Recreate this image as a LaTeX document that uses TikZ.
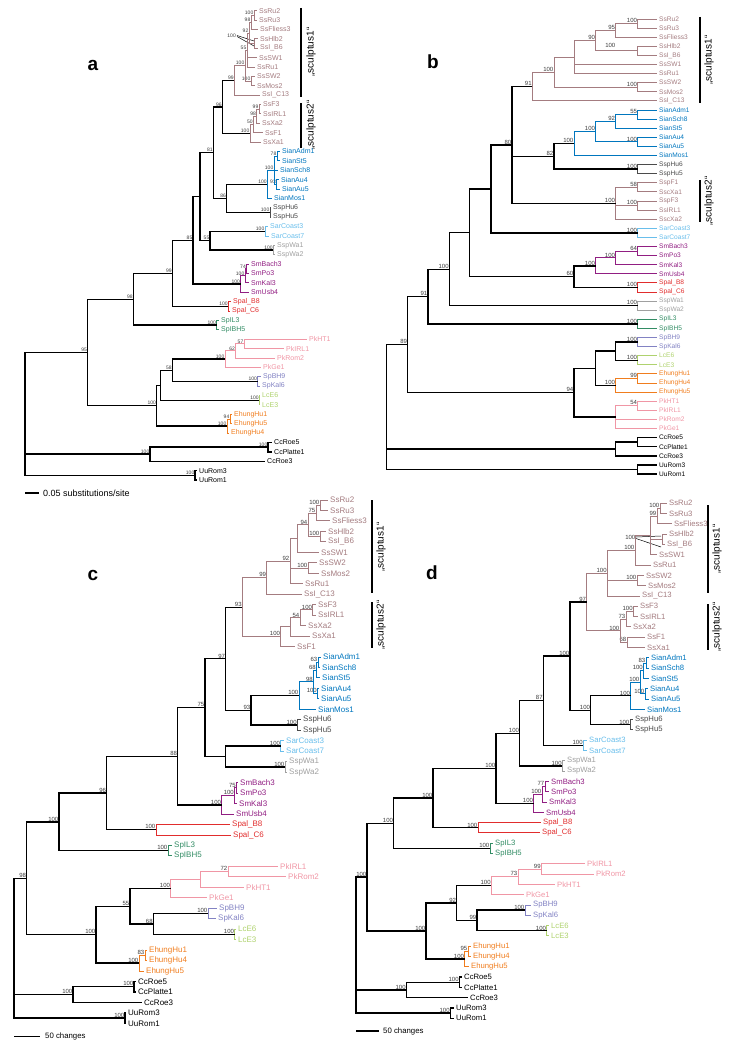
\documentclass[tikz,border=0pt]{standalone}
\usepackage{fontspec}
\setmainfont{Liberation Sans}
\usetikzlibrary{calc}
\definecolor{ss}{RGB}{164,124,128}
\definecolor{sian}{RGB}{0,118,190}
\definecolor{sar}{RGB}{105,190,235}
\definecolor{wa}{RGB}{160,160,160}
\definecolor{hu}{RGB}{75,75,75}
\definecolor{sm}{RGB}{145,30,130}
\definecolor{spal}{RGB}{225,45,45}
\definecolor{spil}{RGB}{50,140,100}
\definecolor{pk}{RGB}{240,150,165}
\definecolor{sp}{RGB}{130,130,195}
\definecolor{lc}{RGB}{175,210,110}
\definecolor{eh}{RGB}{240,125,30}
\definecolor{bsc}{RGB}{60,60,60}
\newcommand\Yz{0}
\newcommand\Dy{0}
\newcommand\Tp[5]{\coordinate (#1) at (#3,{\Yz+\Dy*#2});
  \node[tiplab,text=#5] (#1l) at (#1) {#4};}
\newcommand\Nd[5]{%
  \foreach \c [count=\i] in {#4}{\ifnum\i=1 \xdef\Nfirst{\c}\fi \xdef\Nlast{\c}}%
  \path let \p1=(\Nfirst), \p2=(\Nlast) in (#2pt,{0.5*(\y1)+0.5*(\y2)}) coordinate (#1);
  \foreach \c in {#4}{\draw[br,#3] (#1) |- (\c);}
  \if\relax\detokenize{#5}\relax\else\node[bs] at (#1) {#5};\fi}
\tikzset{
  br/.style={line width=0.9pt},
  K/.style={draw=black,line width=1.4pt},
  tiplab/.style={anchor=west,inner sep=0pt,xshift=2pt},
  bs/.style={anchor=south east,inner sep=0.5pt,text=bsc},
  plab/.style={font=\bfseries\fontsize{19}{19}\selectfont},
  sbar/.style={line width=1.6pt},
  sclab/.style={rotate=90,font=\fontsize{10}{10}\selectfont},
  lead/.style={line width=0.5pt}
}
\begin{document}
\begin{tikzpicture}[x=1pt,y=-1pt]
\useasboundingbox (0,0) rectangle (734,1049);
%================ PANEL A =================
\renewcommand\Yz{10.7}\renewcommand\Dy{9.386}
\begin{scope}[tiplab/.append style={font=\fontsize{7}{7}\selectfont},bs/.append style={font=\fontsize{5}{5}\selectfont}]
\Tp{aRu2}{0}{257}{SsRu2}{ss}
\Tp{aRu3}{1}{257}{SsRu3}{ss}
\Tp{aFl3}{2}{258}{SsFliess3}{ss}
\Tp{aHl2}{3}{258}{SsHlb2}{ss}
\Tp{aB6}{4}{258}{SsI\_B6}{ss}
\Tp{aSW1}{5}{257}{SsSW1}{ss}
\Tp{aRu1}{6}{255}{SsRu1}{ss}
\Tp{aSW2}{7}{255}{SsSW2}{ss}
\Tp{aMo2}{8}{255}{SsMos2}{ss}
\Tp{aC13}{9}{260}{SsI\_C13}{ss}
\Tp{aF3}{10}{261}{SsF3}{ss}
\Tp{aIR}{11}{261}{SsIRL1}{ss}
\Tp{aXa2}{12}{260}{SsXa2}{ss}
\Tp{aF1}{13}{263}{SsF1}{ss}
\Tp{aXa1}{14}{261}{SsXa1}{ss}
\Tp{aAd}{15}{280}{SianAdm1}{sian}
\Tp{aSt}{16}{280}{SianSt5}{sian}
\Tp{aSc}{17}{278}{SianSch8}{sian}
\Tp{aA4}{18}{279}{SianAu4}{sian}
\Tp{aA5}{19}{280}{SianAu5}{sian}
\Tp{aMs}{20}{272}{SianMos1}{sian}
\Tp{aH6}{21}{271}{SspHu6}{hu}
\Tp{aH5}{22}{271}{SspHu5}{hu}
\Tp{aC3}{23}{268}{SarCoast3}{sar}
\Tp{aC7}{24}{269}{SarCoast7}{sar}
\Tp{aW1}{25}{275}{SspWa1}{wa}
\Tp{aW2}{26}{275}{SspWa2}{wa}
\Tp{aBa}{27}{249}{SmBach3}{sm}
\Tp{aPo}{28}{249}{SmPo3}{sm}
\Tp{aKa}{29}{249}{SmKal3}{sm}
\Tp{aUs}{30}{249}{SmUsb4}{sm}
\Tp{aB8}{31}{231}{Spal\_B8}{spal}
\Tp{aC6}{32}{230}{Spal\_C6}{spal}
\Tp{aL3}{33}{219}{SpIL3}{spil}
\Tp{aB5}{34}{219}{SpIBH5}{spil}
\Tp{aHT}{35}{307}{PkHT1}{pk}
\Tp{aIRp}{36}{284}{PkIRL1}{pk}
\Tp{aRo}{37}{275}{PkRom2}{pk}
\Tp{aGe}{38}{261}{PkGe1}{pk}
\Tp{aBH9}{39}{261}{SpBH9}{sp}
\Tp{aK6}{40}{260}{SpKal6}{sp}
\Tp{aE6}{41}{260}{LcE6}{lc}
\Tp{aE3}{42}{260}{LcE3}{lc}
\Tp{aE1}{43}{232}{EhungHu1}{eh}
\Tp{aE5}{44}{232}{EhungHu5}{eh}
\Tp{aE4}{45}{229}{EhungHu4}{eh}
\Tp{aR5}{46}{272}{CcRoe5}{black}
\Tp{aPl}{47}{272}{CcPlatte1}{black}
\Tp{aR3}{48}{265}{CcRoe3}{black}
\Tp{aU3}{49}{197}{UuRom3}{black}
\Tp{aU1}{50}{197}{UuRom1}{black}
\Nd{aRu}{254}{ss}{aRu2,aRu3}{100}
\Nd{a98}{251}{ss}{aRu,aFl3}{98}
\Nd{aHl}{254}{ss}{aHl2,aB6}{}
\node[bs] (aHlb) at (236.5,38) {100};
\draw[lead] (237,35.5) -- (254,41); \draw[lead] (237,36.5) -- (254,46);
\Nd{a92}{249}{ss}{a98,aHl}{92}
\Nd{a55}{247}{ss}{a92,aSW1,aRu1}{55}
\Nd{aSW}{251}{ss}{aSW2,aMo2}{100}
\Nd{a100p}{245}{ss}{a55,aSW}{100}
\Nd{a99}{234.3}{ss}{a100p,aC13}{99}
\Nd{a99b}{259}{ss}{aF3,aIR}{99}
\Nd{a98b}{256.7}{ss}{a99b,aXa2}{98}
\Nd{a50}{253.3}{ss}{a98b,aF1}{50}
\Nd{a100s}{250}{ss}{a50,aXa1}{100}
\Nd{a96}{222.3}{K}{a99,a100s}{96}
\Nd{a78}{277}{sian}{aAd,aSt}{78}
\Nd{a93}{276.5}{sian}{aA4,aA5}{93}
\Nd{a100sb}{274}{sian}{a78,aSc,a93}{100}
\Nd{aSian}{267.3}{sian}{a100sb,aMs}{100}
\Nd{aHu}{270}{hu}{aH6,aH5}{100}
\Nd{a86}{226.7}{K}{aSian,aHu}{86}
\Nd{a81}{213.3}{K}{a96,a86}{81}
\Nd{aCo}{265}{sar}{aC3,aC7}{100}
\Nd{aWa}{273.3}{wa}{aW1,aW2}{100}
\Nd{a55b}{210}{K}{aCo,aWa}{55}
\Nd{aU}{200}{K}{a81,a55b}{}
\Nd{a74}{246.5}{sm}{aBa,aPo}{74}
\Nd{aSm2}{245}{sm}{a74,aKa}{100}
\Nd{aSm}{240.7}{sm}{aSm2,aUs}{100}
\Nd{a85}{193}{K}{aU,aSm}{85}
\Nd{aSp}{228.3}{spal}{aB8,aC6}{100}
\Nd{a99c}{172.3}{K}{a85,aSp}{99}
\Nd{aIL}{216.7}{spil}{aL3,aB5}{100}
\Nd{a98c}{133.3}{K}{a99c,aIL}{98}
\Nd{a57}{244}{pk}{aHT,aIRp}{57}
\Nd{a62}{235.7}{pk}{a57,aRo}{62}
\Nd{aPk}{225}{pk}{a62,aGe}{100}
\Nd{aSpB}{257.7}{sp}{aBH9,aK6}{100}
\Nd{a58}{172.3}{K}{aPk,aSpB}{58}
\Nd{aLc}{259.3}{lc}{aE6,aE3}{100}
\Nd{a161}{160.7}{K}{a58,aLc}{}
\Nd{a94}{230}{eh}{aE1,aE5}{94}
\Nd{aEh}{227}{eh}{a94,aE4}{100}
\Nd{a100a}{156.7}{K}{a161,aEh}{100}
\Nd{a95}{87.7}{K}{a98c,a100a}{95}
\Nd{aCcA}{268}{K}{aR5,aPl}{100}
\Nd{aCc}{150}{K}{aCcA,aR3}{100}
\Nd{aUu}{195}{K}{aU3,aU1}{100}
\Nd{aroot}{25}{K}{a95,aCc,aUu}{}
\coordinate (aS0) at (25,493); \coordinate (aS1) at (39,493);
\draw[K] (aS0) -- (aS1);
\node[anchor=west,inner sep=0pt,font=\fontsize{9}{9}\selectfont] (aSt) at (43,493) {0.05 substitutions/site};
\end{scope}
\node[plab] (la) at (93,65) {a};
\coordinate (s1a0) at (301,8); \coordinate (s1a1) at (301,97);
\draw[sbar] (s1a0) -- (s1a1);
\node[sclab] (s1al) at (311,52) {„sculptus1“};
\coordinate (s2a0) at (301,103); \coordinate (s2a1) at (301,148);
\draw[sbar] (s2a0) -- (s2a1);
\node[sclab] (s2al) at (311,125) {„sculptus2“};
%================ PANEL B =================
\renewcommand\Yz{19}\renewcommand\Dy{9.1}
\begin{scope}[tiplab/.append style={font=\fontsize{6.6}{6.6}\selectfont},bs/.append style={font=\fontsize{6}{6}\selectfont}]
\Tp{bRu2}{0}{657}{SsRu2}{ss}
\Tp{bRu3}{1}{657}{SsRu3}{ss}
\Tp{bFl3}{2}{657}{SsFliess3}{ss}
\Tp{bHl2}{3}{657}{SsHlb2}{ss}
\Tp{bB6}{4}{657}{SsI\_B6}{ss}
\Tp{bSW1}{5}{657}{SsSW1}{ss}
\Tp{bRu1}{6}{657}{SsRu1}{ss}
\Tp{bSW2}{7}{657}{SsSW2}{ss}
\Tp{bMo2}{8}{657}{SsMos2}{ss}
\Tp{bC13}{9}{657}{SsI\_C13}{ss}
\Tp{bAd}{10}{657}{SianAdm1}{sian}
\Tp{bSc}{11}{657}{SianSch8}{sian}
\Tp{bSt}{12}{657}{SianSt5}{sian}
\Tp{bA4}{13}{657}{SianAu4}{sian}
\Tp{bA5}{14}{657}{SianAu5}{sian}
\Tp{bMs}{15}{657}{SianMos1}{sian}
\Tp{bH6}{16}{657}{SspHu6}{hu}
\Tp{bH5}{17}{657}{SspHu5}{hu}
\Tp{bF1}{18}{657}{SspF1}{ss}
\Tp{bXa1}{19}{657}{SscXa1}{ss}
\Tp{bF3}{20}{657}{SspF3}{ss}
\Tp{bIR}{21}{657}{SsIRL1}{ss}
\Tp{bXa2}{22}{657}{SscXa2}{ss}
\Tp{bC3}{23}{657}{SarCoast3}{sar}
\Tp{bC7}{24}{657}{SarCoast7}{sar}
\Tp{bBa}{25}{657}{SmBach3}{sm}
\Tp{bPo}{26}{657}{SmPo3}{sm}
\Tp{bKa}{27}{657}{SmKal3}{sm}
\Tp{bUs}{28}{657}{SmUsb4}{sm}
\Tp{bB8}{29}{657}{Spal\_B8}{spal}
\Tp{bC6}{30}{657}{Spal\_C6}{spal}
\Tp{bW1}{31}{657}{SspWa1}{wa}
\Tp{bW2}{32}{657}{SspWa2}{wa}
\Tp{bL3}{33}{657}{SpIL3}{spil}
\Tp{bB5}{34}{657}{SpIBH5}{spil}
\Tp{bBH9}{35}{657}{SpBH9}{sp}
\Tp{bK6}{36}{657}{SpKal6}{sp}
\Tp{bE6}{37}{657}{LcE6}{lc}
\Tp{bE3}{38}{657}{LcE3}{lc}
\Tp{bE1}{39}{657}{EhungHu1}{eh}
\Tp{bE4}{40}{657}{EhungHu4}{eh}
\Tp{bE5}{41}{657}{EhungHu5}{eh}
\Tp{bHT}{42}{657}{PkHT1}{pk}
\Tp{bIRp}{43}{657}{PkIRL1}{pk}
\Tp{bRo}{44}{657}{PkRom2}{pk}
\Tp{bGe}{45}{657}{PkGe1}{pk}
\Tp{bR5}{46}{657}{CcRoe5}{black}
\Tp{bPl}{47}{657}{CcPlatte1}{black}
\Tp{bR3}{48}{657}{CcRoe3}{black}
\Tp{bU3}{49}{657}{UuRom3}{black}
\Tp{bU1}{50}{657}{UuRom1}{black}
\Nd{bRu}{637.7}{ss}{bRu2,bRu3}{100}
\Nd{b95}{615.7}{ss}{bRu,bFl3}{95}
\Nd{bHl}{637.7}{ss}{bHl2,bB6}{}
\node[bs] (bHlb) at (616,48) {100};
\Nd{b90}{595.7}{ss}{b95,bHl}{90}
\Nd{b100a}{574}{ss}{b90,bSW1,bRu1}{}
\Nd{bSW}{637.7}{ss}{bSW2,bMo2}{100}
\Nd{b100b}{554}{ss}{b100a,bSW}{100}
\Nd{b91}{532.3}{ss}{b100b,bC13}{91}
\Nd{b55}{637.7}{sian}{bAd,bSc}{55}
\Nd{b92}{615.7}{sian}{b55,bSt}{92}
\Nd{bAu}{637.7}{sian}{bA4,bA5}{100}
\Nd{b100s}{595.7}{sian}{b92,bAu}{100}
\Nd{bSian}{574}{sian}{b100s,bMs}{100}
\Nd{bHu}{637.7}{hu}{bH6,bH5}{100}
\Nd{b82}{554}{K}{bSian,bHu}{82}
\Nd{b58}{637.7}{ss}{bF1,bXa1}{58}
\Nd{bF3n}{637.7}{ss}{bF3,bIR}{100}
\Nd{bS2}{615.7}{ss}{b58,bF3n,bXa2}{100}
\Nd{b80}{512}{K}{b91,b82,bS2}{80}
\Nd{bCo}{637.7}{sar}{bC3,bC7}{100}
\Nd{b491}{491}{K}{b80,bCo}{}
\Nd{b64}{637.7}{sm}{bBa,bPo}{64}
\Nd{bSm2}{615.7}{sm}{b64,bKa}{100}
\Nd{bSm}{595.7}{sm}{bSm2,bUs}{100}
\Nd{bSp}{637.7}{spal}{bB8,bC6}{100}
\Nd{b60}{574}{K}{bSm,bSp}{60}
\Nd{b470}{469.7}{K}{b491,b60}{}
\Nd{bWa}{637.7}{wa}{bW1,bW2}{100}
\Nd{b449}{449.3}{K}{b470,bWa}{100}
\Nd{bIL}{637.7}{spil}{bL3,bB5}{100}
\Nd{b91b}{428}{K}{b449,bIL}{91}
\Nd{bSpB}{637.7}{sp}{bBH9,bK6}{100}
\Nd{bLc}{637.7}{lc}{bE6,bE3}{100}
\Nd{b615}{615.7}{K}{bSpB,bLc}{}
\Nd{b99e}{637.7}{eh}{bE1,bE4}{99}
\Nd{bEh}{615.7}{eh}{b99e,bE5}{100}
\Nd{b595}{595.7}{K}{b615,bEh}{}
\Nd{b54}{637.7}{pk}{bHT,bIRp}{54}
\Nd{bPk}{615.7}{pk}{b54,bRo,bGe}{}
\Nd{b94}{574}{K}{b595,bPk}{94}
\Nd{b89}{407.7}{K}{b91b,b94}{89}
\Nd{bCcA}{637.7}{K}{bR5,bPl}{}
\Nd{bCc}{615.7}{K}{bCcA,bR3}{}
\Nd{bUu}{637.7}{K}{bU3,bU1}{}
\Nd{broot}{386.3}{K}{b89,bCc,bUu}{}
\end{scope}
\node[plab] (lb) at (433,62) {b};
\coordinate (s1b0) at (700,17); \coordinate (s1b1) at (700,103);
\draw[sbar] (s1b0) -- (s1b1);
\node[sclab] (s1bl) at (709,60) {„sculptus1“};
\coordinate (s2b0) at (700,180); \coordinate (s2b1) at (700,222);
\draw[sbar] (s2b0) -- (s2b1);
\node[sclab] (s2bl) at (709,201) {„sculptus2“};
%================ PANEL C =================
\renewcommand\Yz{500}\renewcommand\Dy{10.467}
\begin{scope}[tiplab/.append style={font=\fontsize{8}{8}\selectfont},bs/.append style={font=\fontsize{6}{6}\selectfont}]
\Tp{cRu2}{0}{328}{SsRu2}{ss}
\Tp{cRu3}{1}{328}{SsRu3}{ss}
\Tp{cFl3}{2}{330}{SsFliess3}{ss}
\Tp{cHl2}{3}{326}{SsHlb2}{ss}
\Tp{cB6}{4}{326}{SsI\_B6}{ss}
\Tp{cSW1}{5}{319}{SsSW1}{ss}
\Tp{cSW2}{6}{317}{SsSW2}{ss}
\Tp{cMo2}{7}{319}{SsMos2}{ss}
\Tp{cRu1}{8}{303}{SsRu1}{ss}
\Tp{cC13}{9}{302}{SsI\_C13}{ss}
\Tp{cF3}{10}{316}{SsF3}{ss}
\Tp{cIR}{11}{316}{SsIRL1}{ss}
\Tp{cXa2}{12}{306}{SsXa2}{ss}
\Tp{cXa1}{13}{310}{SsXa1}{ss}
\Tp{cF1}{14}{295}{SsF1}{ss}
\Tp{cAd}{15}{321}{SianAdm1}{sian}
\Tp{cSc}{16}{320}{SianSch8}{sian}
\Tp{cSt}{17}{320}{SianSt5}{sian}
\Tp{cA4}{18}{319}{SianAu4}{sian}
\Tp{cA5}{19}{319}{SianAu5}{sian}
\Tp{cMs}{20}{316}{SianMos1}{sian}
\Tp{cH6}{21}{301}{SspHu6}{hu}
\Tp{cH5}{22}{301}{SspHu5}{hu}
\Tp{cC3}{23}{284}{SarCoast3}{sar}
\Tp{cC7}{24}{284}{SarCoast7}{sar}
\Tp{cW1}{25}{287}{SspWa1}{wa}
\Tp{cW2}{26}{287}{SspWa2}{wa}
\Tp{cBa}{27}{238}{SmBach3}{sm}
\Tp{cPo}{28}{238}{SmPo3}{sm}
\Tp{cKa}{29}{237}{SmKal3}{sm}
\Tp{cUs}{30}{234}{SmUsb4}{sm}
\Tp{cB8}{31}{230}{Spal\_B8}{spal}
\Tp{cC6}{32}{231}{Spal\_C6}{spal}
\Tp{cL3}{33}{172}{SpIL3}{spil}
\Tp{cB5}{34}{172}{SpIBH5}{spil}
\Tp{cIRp}{35}{278}{PkIRL1}{pk}
\Tp{cRo}{36}{286}{PkRom2}{pk}
\Tp{cHT}{37}{244}{PkHT1}{pk}
\Tp{cGe}{38}{207}{PkGe1}{pk}
\Tp{cBH9}{39}{217}{SpBH9}{sp}
\Tp{cK6}{40}{216}{SpKal6}{sp}
\Tp{cE6}{41}{236}{LcE6}{lc}
\Tp{cE3}{42}{236}{LcE3}{lc}
\Tp{cE1}{43}{147}{EhungHu1}{eh}
\Tp{cE4}{44}{147}{EhungHu4}{eh}
\Tp{cE5}{45}{144}{EhungHu5}{eh}
\Tp{cR5}{46}{136}{CcRoe5}{black}
\Tp{cPl}{47}{136}{CcPlatte1}{black}
\Tp{cR3}{48}{142}{CcRoe3}{black}
\Tp{cU3}{49}{126}{UuRom3}{black}
\Tp{cU1}{50}{126}{UuRom1}{black}
\Nd{cRu}{320}{ss}{cRu2,cRu3}{100}
\Nd{c75}{316}{ss}{cRu,cFl3}{75}
\Nd{cHl}{320}{ss}{cHl2,cB6}{100}
\Nd{c94}{308}{ss}{c75,cHl}{94}
\Nd{cU}{297}{ss}{c94,cSW1}{}
\Nd{cSW}{308}{ss}{cSW2,cMo2}{100}
\Nd{c92}{290}{ss}{cU,cSW,cRu1}{92}
\Nd{c99}{266.7}{ss}{c92,cC13}{99}
\Nd{cF3n}{312.7}{ss}{cF3,cIR}{100}
\Nd{c54}{300}{ss}{cF3n,cXa2}{54}
\Nd{cU2}{290}{ss}{c54,cXa1}{}
\Nd{cS2}{280.7}{ss}{cU2,cF1}{100}
\Nd{c93}{242.3}{ss}{c99,cS2}{93}
\Nd{c63}{318}{sian}{cAd,cSc}{63}
\Nd{c68}{316.5}{sian}{c63,cSt}{68}
\Nd{cAu}{317.5}{sian}{cA4,cA5}{100}
\Nd{c98}{313.5}{sian}{c68,cAu}{98}
\Nd{cSian}{299}{sian}{c98,cMs}{100}
\Nd{cHu}{297.3}{hu}{cH6,cH5}{100}
\Nd{c93b}{251}{K}{cSian,cHu}{93}
\Nd{c97}{225.7}{K}{c93,c93b}{97}
\Nd{cCo}{280.7}{sar}{cC3,cC7}{100}
\Nd{cWa}{285}{wa}{cW1,cW2}{100}
\Nd{c225}{225.3}{K}{cCo,cWa}{}
\Nd{c75b}{205}{K}{c97,c225}{75}
\Nd{cBP}{236.5}{sm}{cBa,cPo}{75}
\Nd{cSm2}{234.5}{sm}{cBP,cKa}{100}
\Nd{cSm}{221.7}{sm}{cSm2,cUs}{100}
\Nd{c88}{177.7}{K}{c75b,cSm}{88}
\Nd{cSp}{156}{spal}{cB8,cC6}{100}
\Nd{c96}{106.7}{K}{c88,cSp}{96}
\Nd{cIL}{168}{spil}{cL3,cB5}{100}
\Nd{c100}{59}{K}{c96,cIL}{100}
\Nd{c72}{228}{pk}{cIRp,cRo}{72}
\Nd{cPu}{200.7}{pk}{c72,cHT}{}
\Nd{cPk}{170.7}{pk}{cPu,cGe}{100}
\Nd{cSpB}{208}{sp}{cBH9,cK6}{100}
\Nd{cLc}{234.7}{lc}{cE6,cE3}{100}
\Nd{c68b}{153.3}{K}{cSpB,cLc}{68}
\Nd{c55}{130}{K}{cPk,c68b}{55}
\Nd{c83}{145}{eh}{cE1,cE4}{83}
\Nd{cEh}{139}{eh}{c83,cE5}{100}
\Nd{c100b}{96}{K}{c55,cEh}{100}
\Nd{c98r}{26.7}{K}{c100,c100b}{98}
\Nd{cCcA}{134}{K}{cR5,cPl}{100}
\Nd{cCc}{73}{K}{cCcA,cR3}{100}
\Nd{cUu}{125}{K}{cU3,cU1}{100}
\Nd{croot}{14}{K}{c98r,cCc,cUu}{}
\coordinate (cS0) at (14,1036.7); \coordinate (cS1) at (40,1036.7);
\draw[K] (cS0) -- (cS1);
\node[anchor=west,inner sep=0pt,font=\fontsize{7.8}{7.8}\selectfont] (cSt) at (45,1036.7) {50 changes};
\end{scope}
\node[plab] (lc) at (93,575) {c};
\coordinate (s1c0) at (372,500); \coordinate (s1c1) at (372,593);
\draw[sbar] (s1c0) -- (s1c1);
\node[sclab] (s1cl) at (381,547) {„sculptus1“};
\coordinate (s2c0) at (372,602); \coordinate (s2c1) at (372,648);
\draw[sbar] (s2c0) -- (s2c1);
\node[sclab] (s2cl) at (381,625) {„sculptus2“};
%================ PANEL D =================
\renewcommand\Yz{503.3}\renewcommand\Dy{10.3}
\begin{scope}[tiplab/.append style={font=\fontsize{7.7}{7.7}\selectfont},bs/.append style={font=\fontsize{6}{6}\selectfont}]
\Tp{dRu2}{0}{667}{SsRu2}{ss}
\Tp{dRu3}{1}{667}{SsRu3}{ss}
\Tp{dFl3}{2}{672}{SsFliess3}{ss}
\Tp{dHl2}{3}{667}{SsHlb2}{ss}
\Tp{dB6}{4}{665}{SsI\_B6}{ss}
\Tp{dSW1}{5}{657}{SsSW1}{ss}
\Tp{dRu1}{6}{651}{SsRu1}{ss}
\Tp{dSW2}{7}{644}{SsSW2}{ss}
\Tp{dMo2}{8}{646}{SsMos2}{ss}
\Tp{dC13}{9}{640}{SsI\_C13}{ss}
\Tp{dF3}{10}{638}{SsF3}{ss}
\Tp{dIR}{11}{638}{SsIRL1}{ss}
\Tp{dXa2}{12}{631}{SsXa2}{ss}
\Tp{dF1}{13}{645}{SsF1}{ss}
\Tp{dXa1}{14}{645}{SsXa1}{ss}
\Tp{dAd}{15}{649}{SianAdm1}{sian}
\Tp{dSc}{16}{649}{SianSch8}{sian}
\Tp{dSt}{17}{649}{SianSt5}{sian}
\Tp{dA4}{18}{648}{SianAu4}{sian}
\Tp{dA5}{19}{649}{SianAu5}{sian}
\Tp{dMs}{20}{645}{SianMos1}{sian}
\Tp{dH6}{21}{633}{SspHu6}{hu}
\Tp{dH5}{22}{633}{SspHu5}{hu}
\Tp{dC3}{23}{587}{SarCoast3}{sar}
\Tp{dC7}{24}{587}{SarCoast7}{sar}
\Tp{dW1}{25}{565}{SspWa1}{wa}
\Tp{dW2}{26}{565}{SspWa2}{wa}
\Tp{dBa}{27}{549}{SmBach3}{sm}
\Tp{dPo}{28}{549}{SmPo3}{sm}
\Tp{dKa}{29}{547}{SmKal3}{sm}
\Tp{dUs}{30}{544}{SmUsb4}{sm}
\Tp{dB8}{31}{541}{Spal\_B8}{spal}
\Tp{dC6}{32}{540}{Spal\_C6}{spal}
\Tp{dL3}{33}{493}{SpIL3}{spil}
\Tp{dB5}{34}{493}{SpIBH5}{spil}
\Tp{dIRp}{35}{585}{PkIRL1}{pk}
\Tp{dRo}{36}{594}{PkRom2}{pk}
\Tp{dHT}{37}{555}{PkHT1}{pk}
\Tp{dGe}{38}{524}{PkGe1}{pk}
\Tp{dBH9}{39}{531}{SpBH9}{sp}
\Tp{dK6}{40}{531}{SpKal6}{sp}
\Tp{dE6}{41}{549}{LcE6}{lc}
\Tp{dE3}{42}{549}{LcE3}{lc}
\Tp{dE1}{43}{471}{EhungHu1}{eh}
\Tp{dE4}{44}{471}{EhungHu4}{eh}
\Tp{dE5}{45}{469}{EhungHu5}{eh}
\Tp{dR5}{46}{462}{CcRoe5}{black}
\Tp{dPl}{47}{462}{CcPlatte1}{black}
\Tp{dR3}{48}{468}{CcRoe3}{black}
\Tp{dU3}{49}{454}{UuRom3}{black}
\Tp{dU1}{50}{454}{UuRom1}{black}
\Nd{dRu}{660}{ss}{dRu2,dRu3}{100}
\Nd{d99}{657}{ss}{dRu,dFl3}{99}
\Nd{dHl}{662}{ss}{dHl2,dB6}{}
\node[bs] (dHlb) at (636,540) {100};
\draw[lead] (636,537) -- (661,536); \draw[lead] (636,538.5) -- (661,547);
\Nd{dX}{650}{ss}{d99,dHl,dSW1}{}
\Nd{d100a}{635}{ss}{dX,dRu1}{100}
\Nd{dSW}{637}{ss}{dSW2,dMo2}{100}
\Nd{d100b}{607.3}{ss}{d100a,dSW,dC13}{100}
\Nd{dF3n}{633.3}{ss}{dF3,dIR}{100}
\Nd{d73}{626}{ss}{dF3n,dXa2}{73}
\Nd{d68}{627}{ss}{dF1,dXa1}{68}
\Nd{dS2}{620}{ss}{d73,d68}{100}
\Nd{d97}{586.7}{ss}{d100b,dS2}{97}
\Nd{d83}{646}{sian}{dAd,dSc}{83}
\Nd{d100c}{643.5}{sian}{d83,dSt}{100}
\Nd{dAu}{645}{sian}{dA4,dA5}{100}
\Nd{d100d}{640}{sian}{d100c,dAu}{100}
\Nd{dSian}{630.7}{sian}{d100d,dMs}{100}
\Nd{dHu}{630}{hu}{dH6,dH5}{100}
\Nd{d100e}{590.7}{K}{dSian,dHu}{100}
\Nd{d100f}{570}{K}{d97,d100e}{100}
\Nd{dCo}{583.3}{sar}{dC3,dC7}{100}
\Nd{d87}{543.3}{K}{d100f,dCo}{87}
\Nd{dWa}{562.3}{wa}{dW1,dW2}{100}
\Nd{d100g}{519.7}{K}{d87,dWa}{100}
\Nd{dBP}{545}{sm}{dBa,dPo}{77}
\Nd{dSm2}{542}{sm}{dBP,dKa}{100}
\Nd{dSm}{533.7}{sm}{dSm2,dUs}{100}
\Nd{d100h}{496}{K}{d100g,dSm}{100}
\Nd{dSp}{478}{spal}{dB8,dC6}{100}
\Nd{d100i}{433}{K}{d100h,dSp}{100}
\Nd{dIL}{490}{spil}{dL3,dB5}{100}
\Nd{d100j}{393.7}{K}{d100i,dIL}{100}
\Nd{d99p}{541.3}{pk}{dIRp,dRo}{99}
\Nd{d73p}{518}{pk}{d99p,dHT}{73}
\Nd{dPk}{491.3}{pk}{d73p,dGe}{100}
\Nd{dSpB}{525}{sp}{dBH9,dK6}{100}
\Nd{dLc}{546.7}{lc}{dE6,dE3}{100}
\Nd{d99q}{477}{K}{dSpB,dLc}{99}
\Nd{d92}{456.7}{K}{dPk,d99q}{92}
\Nd{d95}{468}{eh}{dE1,dE4}{95}
\Nd{dEh}{464.7}{eh}{d95,dE5}{100}
\Nd{d100k}{426}{K}{d92,dEh}{100}
\Nd{dR1}{367}{K}{d100j,d100k}{100}
\Nd{dCcA}{459.3}{K}{dR5,dPl}{100}
\Nd{dCc}{406.3}{K}{dCcA,dR3}{100}
\Nd{dUu}{450.3}{K}{dU3,dU1}{100}
\Nd{droot}{356}{K}{dR1,dCc,dUu}{}
\coordinate (dS0) at (356,1031); \coordinate (dS1) at (379,1031);
\draw[K] (dS0) -- (dS1);
\node[anchor=west,inner sep=0pt,font=\fontsize{7.8}{7.8}\selectfont] (dSt) at (383,1031) {50 changes};
\end{scope}
\node[plab] (ld) at (432,573) {d};
\coordinate (s1d0) at (708,505); \coordinate (s1d1) at (708,593);
\draw[sbar] (s1d0) -- (s1d1);
\node[sclab] (s1dl) at (717,549) {„sculptus1“};
\coordinate (s2d0) at (708,604); \coordinate (s2d1) at (708,650);
\draw[sbar] (s2d0) -- (s2d1);
\node[sclab] (s2dl) at (717,627) {„sculptus2“};
\end{tikzpicture}
\end{document}
